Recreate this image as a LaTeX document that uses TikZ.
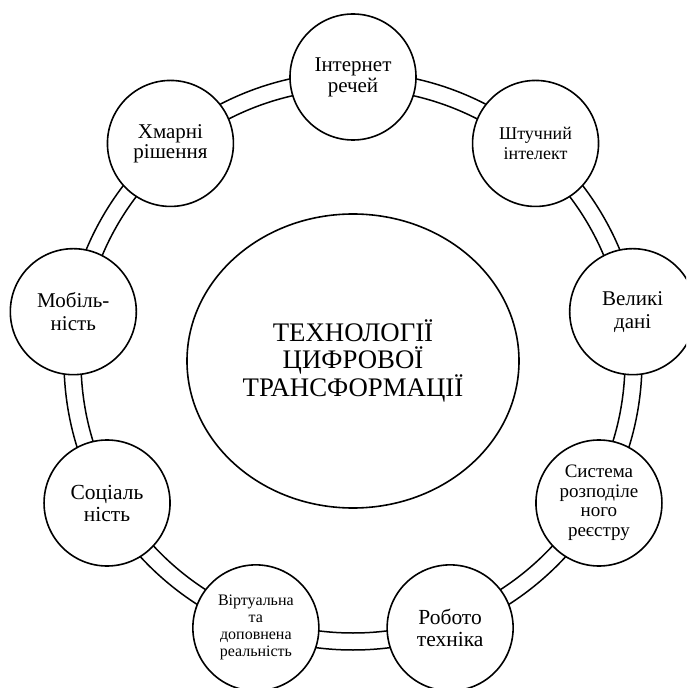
\documentclass[tikz,border=0pt]{standalone}
\usepackage{fontspec}
\setmainfont{Liberation Serif}
\usetikzlibrary{shapes.geometric}

\tikzset{
  tech/.style={draw, circle, fill=white, line width=1.6pt, minimum size=126pt,
    inner sep=0pt, align=center},
  ring/.style={black, line width=1.5pt}
}

\begin{document}
\begin{tikzpicture}[x=1pt, y=1pt]
        \useasboundingbox (-353,-327) rectangle (333,361);
        \clip (-353,-327) rectangle (333,361);

        \draw[ring] (0,0) circle (289);
        \draw[ring] (0,0) circle (272);

        \node[draw, ellipse, line width=1.6pt, minimum width=332pt, minimum height=294pt,
          align=center, font=\fontsize{26.8}{26.5}\selectfont] (core) at (0,0)
          {ТЕХНОЛОГІЇ\\ЦИФРОВОЇ\\ТРАНСФОРМАЦІЇ};

        \node[tech, font=\fontsize{21}{21}\selectfont] (iot) at (90:284) {Інтернет\\речей};
        \node[tech, font=\fontsize{18}{19.5}\selectfont] (ai) at (50:284) {Штучний\\інтелект};
        \node[tech, font=\fontsize{21}{23}\selectfont] (bigdata) at (10:284) {Великі\\дані};
        \node[tech, font=\fontsize{19}{19.5}\selectfont] (ledger) at (-30:284) {Система\\розподіле\\ного\\реєстру};
        \node[tech, font=\fontsize{21.5}{22}\selectfont] (robot) at (-70:284) {Робото\\техніка};
        \node[tech, font=\fontsize{16}{17}\selectfont] (vr) at (-110:284) {Віртуальна\\та\\доповнена\\реальність};
        \node[tech, font=\fontsize{21.5}{22}\selectfont] (social) at (-150:284) {Соціаль\\ність};
        \node[tech, font=\fontsize{21}{23}\selectfont] (mobile) at (170:284) {Мобіль-\\ність};
        \node[tech, font=\fontsize{21}{20}\selectfont] (cloud) at (130:284) {Хмарні\\рішення};
    \end{tikzpicture}
\end{document}
